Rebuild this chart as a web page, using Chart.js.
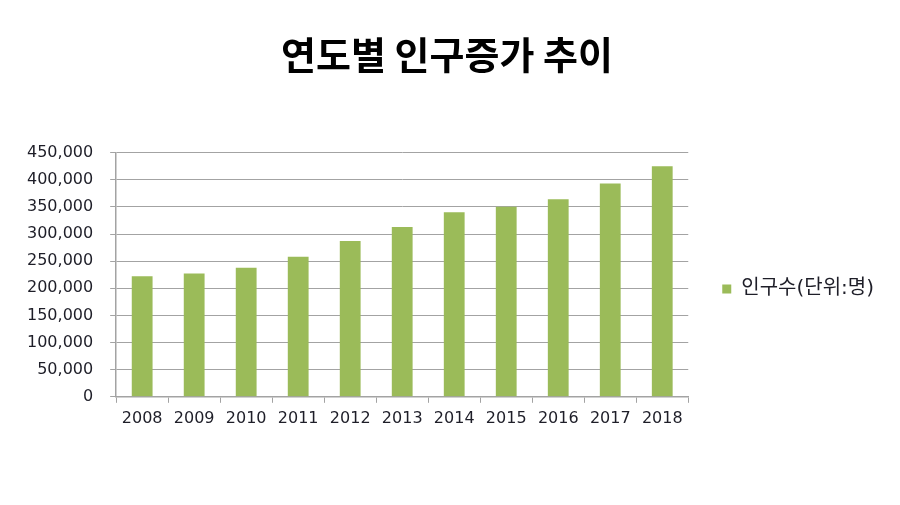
<!DOCTYPE html>
<html>
<head>
<meta charset="utf-8">
<script src="https://cdn.jsdelivr.net/npm/chart.js@4"></script>
<style>
    html, body { margin: 0; padding: 0; background: #fff; }
    #wrap { width: 900px; height: 505px; }
</style>
</head>
<body>
<div id="wrap"><canvas id="popChart" width="900" height="505"></canvas></div>
<script>
const chartTitle = '연도별 인구증가 추이'
const seriesLabel = '인구수(단위:명)'
const years = ['2008', '2009', '2010', '2011', '2012', '2013', '2014', '2015', '2016', '2017', '2018']
const population = [222000, 227000, 238000, 258000, 287000, 313000, 340000, 350000, 364000, 393000, 425000]
const yMax = 450000
const yStep = 50000

const gridColor = '#a3a3a3'
const textColor = '#1e1e28'
const tickFont = { family: '"DejaVu Sans", Verdana, sans-serif', size: 16 }

const ctx = document.getElementById('popChart').getContext('2d')

new Chart(ctx, {
    type: 'bar',
    data: {
        labels: years,
        datasets: [{
            label: seriesLabel,
            data: population,
            backgroundColor: '#9bbb59',
            borderWidth: 0,
            barPercentage: 0.4,
            categoryPercentage: 1
        }]
    },
    options: {
        responsive: false,
        animation: false,
        layout: { padding: { left: 10, right: 16, bottom: 71 } },
        plugins: {
            title: {
                display: true,
                text: chartTitle,
                color: '#000',
                font: { family: '"Noto Sans CJK KR", sans-serif', size: 38, weight: 'bold' },
                padding: { top: 32, bottom: 75 }
            },
            legend: {
                position: 'right',
                align: 'start',
                fullSize: false,
                title: { display: true, text: '', padding: { top: 78, bottom: 0 } },
                labels: {
                    color: textColor,
                    font: { family: '"DejaVu Sans", "Noto Sans CJK KR", sans-serif', size: 20 },
                    boxWidth: 9,
                    boxHeight: 9,
                    padding: 34
                }
            },
            tooltip: { enabled: false }
        },
        scales: {
            y: {
                min: 0,
                max: yMax,
                ticks: {
                    stepSize: yStep,
                    color: textColor,
                    font: tickFont,
                    padding: 17,
                    callback: v => v.toLocaleString('en-US')
                },
                grid: { color: gridColor, lineWidth: 1, tickLength: 6 },
                border: { color: gridColor, width: 1.5 }
            },
            x: {
                ticks: { color: textColor, font: tickFont, padding: 6 },
                grid: { display: true, drawOnChartArea: false, drawTicks: true, tickLength: 6, color: gridColor, offset: true },
                border: { color: gridColor, width: 1.5 }
            }
        }
    }
})
</script>
</body>
</html>
